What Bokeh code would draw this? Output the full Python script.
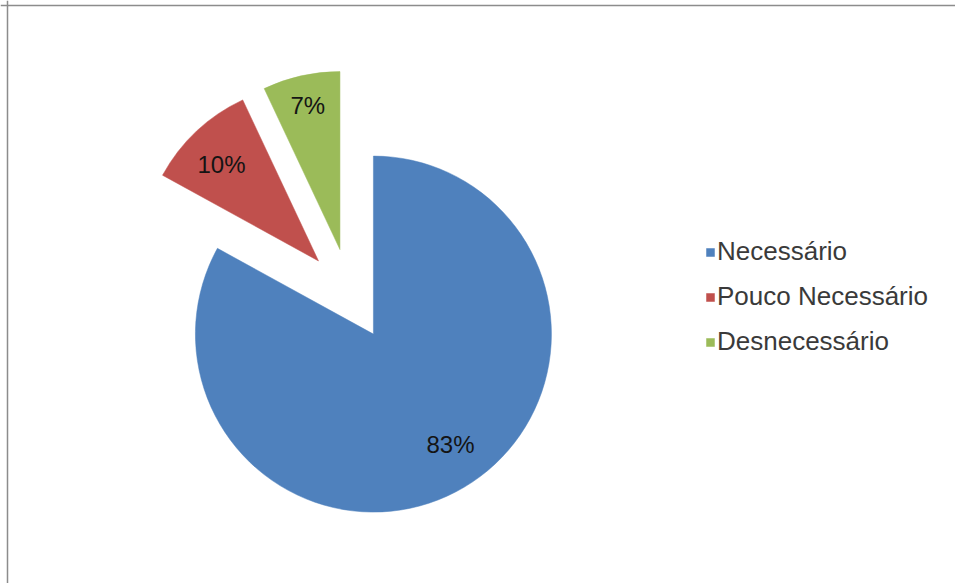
import numpy as np
from bokeh.plotting import figure
from bokeh.models import Range1d, Span, Legend, LegendItem, ColumnDataSource
from bokeh.embed import file_html
from bokeh.resources import INLINE
from bokeh.core.properties import value

# ---- data ----
categories = ["Necessário", "Pouco Necessário", "Desnecessário"]
values = [83, 10, 7]
pct_labels = ["83%", "10%", "7%"]
colors = ["#4F81BD", "#C0504D", "#9BBB59"]

# ---- layout constants ----
W, H = 955, 583
CX, CY = 349.5, H - 294.0   # pie centre (before explosion)
R = 178                     # radius in px
EXPLODE = 46                # explosion distance in px
LABEL_R = [0.757, 0.767, 0.83]      # label distance as fraction of radius
LABEL_DA = [4.3, 2.1, 0.0]          # label angle tweak, degrees
FONT = "Liberation Sans"

p = figure(width=W, height=H, x_range=Range1d(0, W), y_range=Range1d(0, H),
           output_backend="svg", toolbar_location=None,
           x_axis_type=None, y_axis_type=None, min_border=0)
p.grid.visible = False
p.outline_line_color = None
p.background_fill_color = "white"
p.border_fill_color = "white"

frac = np.array(values, dtype=float) / sum(values)
cum = np.concatenate([[0.0], np.cumsum(frac)])
start = np.pi / 2 - 2 * np.pi * cum[:-1]
end = np.pi / 2 - 2 * np.pi * cum[1:]
mid = (start + end) / 2
ax = CX + EXPLODE * np.cos(mid)
ay = CY + EXPLODE * np.sin(mid)
lang = mid + np.radians(LABEL_DA)
lx = ax + np.array(LABEL_R) * R * np.cos(lang)
ly = ay + np.array(LABEL_R) * R * np.sin(lang)

src = ColumnDataSource(dict(x=ax, y=ay, start=start, end=end, color=colors,
                            cat=categories, lx=lx, ly=ly, lab=pct_labels))

wedges = p.wedge(x="x", y="y", radius=R, start_angle="start", end_angle="end",
                 direction="clock", fill_color="color", line_color="color",
                 line_width=0.5, source=src)

p.text(x="lx", y="ly", text="lab", source=src, text_align="center",
       text_baseline="middle", text_font=value(FONT), text_font_size="24px",
       text_color="#141414")

# border lines (top and left)
p.add_layout(Span(location=H - 5, dimension="width", line_color="#8c8c8c", line_width=1.5))
p.add_layout(Span(location=7, dimension="height", line_color="#8c8c8c", line_width=1.5))

items = [LegendItem(label=c, renderers=[wedges], index=i) for i, c in enumerate(categories)]
legend = Legend(items=items, location=(705, 226), orientation="vertical",
                glyph_width=10, glyph_height=10, label_standoff=2,
                label_text_font=FONT, label_text_font_size="26px",
                label_text_color="#3a3a3a", label_height=30, spacing=14,
                padding=0, margin=0, border_line_color=None,
                background_fill_alpha=0)
p.add_layout(legend)

open("out.html", "w").write(file_html(p, INLINE))
